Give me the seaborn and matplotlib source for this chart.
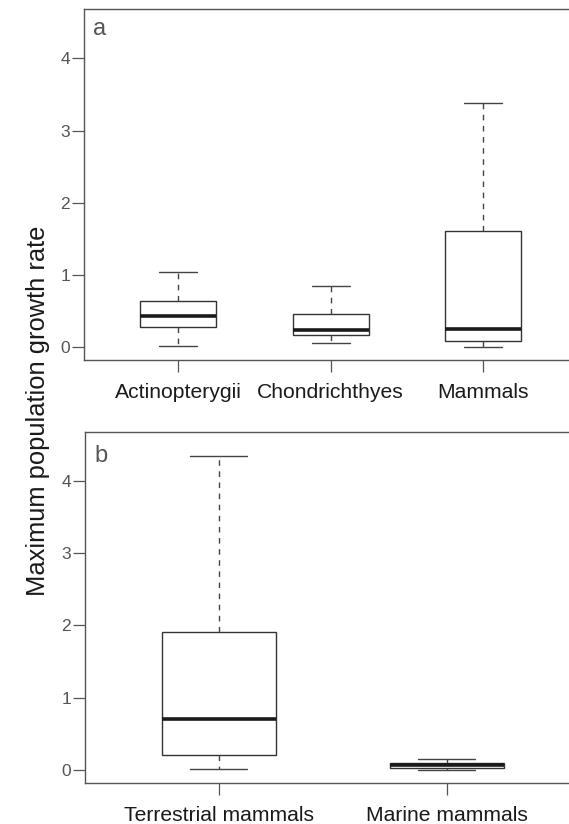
import matplotlib
matplotlib.use("Agg")
import matplotlib.pyplot as plt
import seaborn as sns
import pandas as pd

# five-number summaries (min, q1, median, q3, max)
groups_a = ["Actinopterygii", "Chondrichthyes", "Mammals"]
actinopterygii = [0.02, 0.28, 0.43, 0.64, 1.04]
chondrichthyes = [0.06, 0.17, 0.245, 0.46, 0.85]
mammals = [0.0, 0.09, 0.255, 1.61, 3.38]

groups_b = ["Terrestrial mammals", "Marine mammals"]
terrestrial = [0.01, 0.207, 0.70, 1.905, 4.35]
marine = [0.0, 0.03, 0.065, 0.10, 0.15]

yticks = [0, 1, 2, 3, 4]

rows_a = []
for g, vals in zip(groups_a, [actinopterygii, chondrichthyes, mammals]):
    for v in vals:
        rows_a.append({"group": g, "rate": v})
df_a = pd.DataFrame(rows_a)

rows_b = []
for g, vals in zip(groups_b, [terrestrial, marine]):
    for v in vals:
        rows_b.append({"group": g, "rate": v})
df_b = pd.DataFrame(rows_b)

sns.set_style("ticks")
plt.rcParams["font.family"] = ["Liberation Sans", "DejaVu Sans"]

fig = plt.figure(figsize=(5.69, 8.24), dpi=100)
ax_a = fig.add_axes([0.1476, 0.5631, 0.8524, 0.4254])
ax_b = fig.add_axes([0.1494, 0.0494, 0.8506, 0.4267])

box_kws = dict(
    whis=(0, 100), width=0.5, color="white", linecolor="#333333", linewidth=1.0,
    showfliers=False,
    whiskerprops=dict(linestyle=(0, (4, 4)), color="#444444"),
    capprops=dict(color="#444444"),
    medianprops=dict(color="#1a1a1a", linewidth=2.6),
)

sns.boxplot(data=df_a, x="group", y="rate", order=groups_a, ax=ax_a, **box_kws)
sns.boxplot(data=df_b, x="group", y="rate", order=groups_b, ax=ax_b, **box_kws)

panels = [(ax_a, (-0.62, 2.565), (-0.173, 4.675), "a", -18.4),
          (ax_b, (-0.586, 1.537), (-0.184, 4.682), "b", -21.6)]
for ax, xlim, ylim, letter, base in panels:
    ax.set_xlim(*xlim)
    ax.set_ylim(*ylim)
    ax.set_yticks(yticks)
    ax.set_xlabel("")
    ax.set_ylabel("")
    ax.spines["right"].set_visible(False)
    for s in ["left", "top", "bottom"]:
        ax.spines[s].set_color("#555555")
        ax.spines[s].set_linewidth(1.0)
    ax.tick_params(axis="y", direction="out", length=8.5, width=0.9, color="#555555",
                   labelsize=12.5, labelcolor="#555555", pad=1.5)
    ax.tick_params(axis="x", direction="out", length=8.5, width=0.9, color="#555555",
                   labelsize=15.2, labelcolor="#1a1a1a", pad=8)
    ax.annotate(letter, xy=(0, 1), xycoords="axes fraction", xytext=(6.8, base),
                textcoords="offset points", ha="left", va="baseline",
                fontsize=17, color="#555555")

fig.text(0.066, 0.502, "Maximum population growth rate", rotation=90,
         ha="center", va="center", fontsize=18.4, color="#1a1a1a")

fig.savefig("out.png", dpi=100)
